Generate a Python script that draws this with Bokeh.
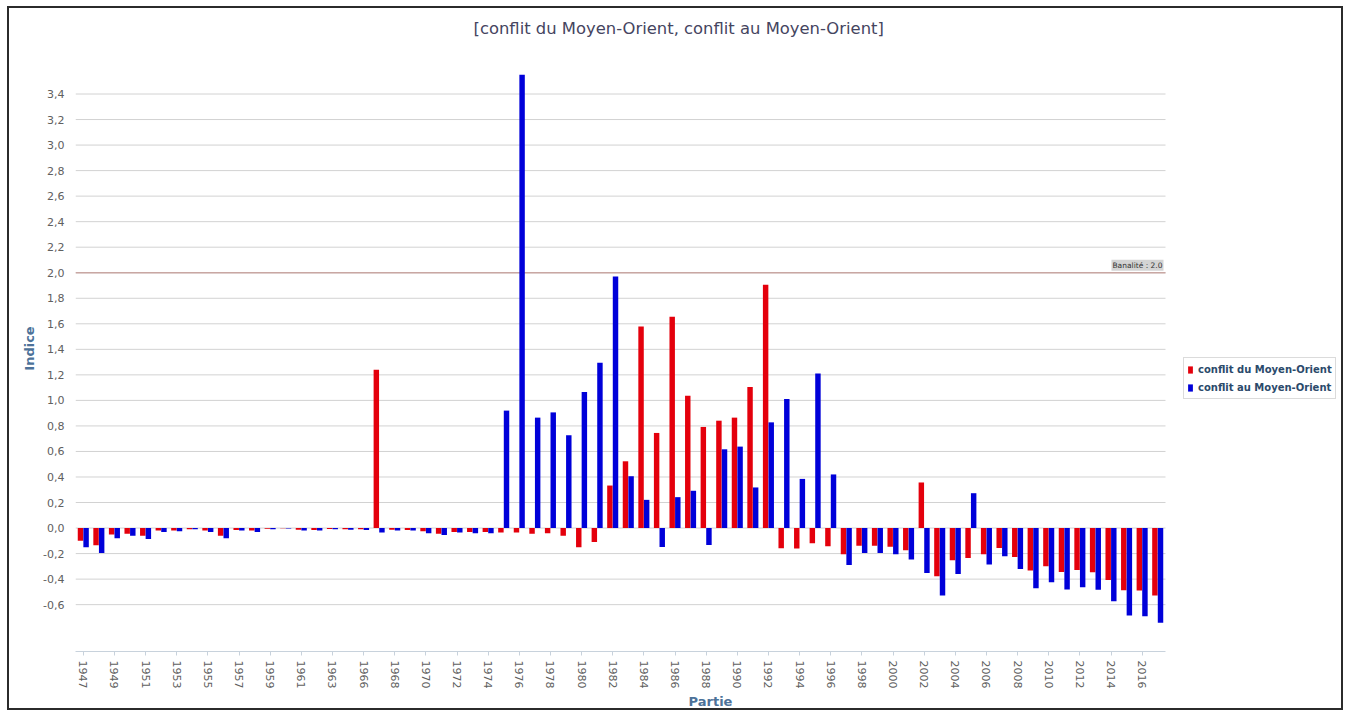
import numpy as np
from bokeh.plotting import figure
from bokeh.models import (ColumnDataSource, Range1d, FixedTicker, CustomJSTickFormatter,
                          Label, Legend, LegendItem)
from bokeh.transform import dodge
from bokeh.embed import file_html
from bokeh.resources import INLINE

# ---------------- data ----------------
years = [1947, 1948, 1949, 1950, 1951, 1952, 1953, 1954, 1955, 1956,
         1957, 1958, 1959, 1960, 1961, 1962, 1963, 1964, 1966, 1967,
         1968, 1969, 1970, 1971, 1972, 1973, 1974, 1975, 1976, 1977,
         1978, 1979, 1980, 1981, 1982, 1983, 1984, 1985, 1986, 1987,
         1988, 1989, 1990, 1991, 1992, 1993, 1994, 1995, 1996, 1997,
         1998, 1999, 2000, 2001, 2002, 2003, 2004, 2005, 2006, 2007,
         2008, 2009, 2010, 2011, 2012, 2013, 2014, 2015, 2016, 2017]

conflit_du = [-0.10, -0.135, -0.05, -0.045, -0.06, -0.02, -0.02, -0.01, -0.02, -0.06,
              -0.015, -0.02, -0.005, -0.002, -0.013, -0.015, -0.008, -0.01, -0.01, 1.24,
              -0.013, -0.015, -0.025, -0.045, -0.03, -0.03, -0.03, -0.034, -0.034, -0.044,
              -0.04, -0.06, -0.151, -0.109, 0.333, 0.523, 1.578, 0.745, 1.656, 1.036,
              0.792, 0.841, 0.865, 1.104, 1.906, -0.159, -0.161, -0.12, -0.143, -0.206,
              -0.138, -0.138, -0.146, -0.174, 0.357, -0.378, -0.253, -0.234, -0.206, -0.156,
              -0.227, -0.333, -0.299, -0.344, -0.328, -0.346, -0.406, -0.487, -0.49, -0.529]

conflit_au = [-0.15, -0.195, -0.08, -0.06, -0.085, -0.03, -0.025, -0.01, -0.03, -0.08,
              -0.02, -0.03, -0.01, -0.004, -0.02, -0.02, -0.01, -0.013, -0.015, -0.035,
              -0.02, -0.02, -0.04, -0.055, -0.035, -0.04, -0.04, 0.92, 3.55, 0.865,
              0.906, 0.727, 1.065, 1.294, 1.97, 0.406, 0.221, -0.148, 0.242, 0.292,
              -0.133, 0.617, 0.638, 0.318, 0.828, 1.010, 0.385, 1.211, 0.42, -0.289,
              -0.195, -0.195, -0.206, -0.247, -0.352, -0.529, -0.359, 0.273, -0.286, -0.221,
              -0.32, -0.471, -0.424, -0.482, -0.464, -0.484, -0.573, -0.685, -0.69, -0.742]

series_names = ["conflit du Moyen-Orient", "conflit au Moyen-Orient"]
y_ticks = [-0.6, -0.4, -0.2, 0.0, 0.2, 0.4, 0.6, 0.8, 1.0, 1.2, 1.4, 1.6, 1.8,
           2.0, 2.2, 2.4, 2.6, 2.8, 3.0, 3.2, 3.4]
threshold = 2.0
threshold_label = "Banalité : 2.0"
title_text = "[conflit du Moyen-Orient, conflit au Moyen-Orient]"

RED = "#e4000c"
BLUE = "#0000d9"
FONT = "DejaVu Sans"

n = len(years)
x_lo, x_hi = -0.5, n - 0.5
# the frame also holds the legend area at the right: extend the range by that share
plot_px, legend_px = 1090.0, 180.0
x_end = x_hi + (x_hi - x_lo) * legend_px / plot_px

src = ColumnDataSource(dict(idx=list(range(n)), du=conflit_du, au=conflit_au))

p = figure(width=1336, height=704, output_backend="svg", toolbar_location=None,
           x_range=Range1d(x_lo, x_end), y_range=Range1d(-0.967, 3.78),
           min_border_left=66, min_border_right=0, min_border_top=36, min_border_bottom=60)
p.styles = {"border": "2px solid #2b2b2b", "margin-left": "7px", "margin-top": "6px"}
p.outline_line_color = None
p.background_fill_color = "white"
p.border_fill_color = "white"

# horizontal grid lines limited to the data area
p.xgrid.visible = False
p.ygrid.visible = False
p.segment(x0=[x_lo] * len(y_ticks), x1=[x_hi] * len(y_ticks), y0=y_ticks, y1=y_ticks,
          line_color="#d2d2d2", line_width=1)

# threshold line
p.segment(x0=[x_lo], x1=[x_hi], y0=[threshold], y1=[threshold],
          line_color="#c9a7a3", line_width=1.5)

r1 = p.vbar(x=dodge("idx", -0.18), top="du", bottom=0, width=0.35, source=src,
            fill_color=RED, line_color=None)
r2 = p.vbar(x=dodge("idx", 0.18), top="au", bottom=0, width=0.35, source=src,
            fill_color=BLUE, line_color=None)

# y axis
p.yaxis.ticker = FixedTicker(ticks=y_ticks)
p.yaxis.formatter = CustomJSTickFormatter(code="return tick.toFixed(1).replace('.', ',');")
p.yaxis.axis_line_color = None
p.yaxis.major_tick_line_color = None
p.yaxis.minor_tick_line_color = None
p.yaxis.major_label_text_font = FONT
p.yaxis.major_label_text_font_size = "11px"
p.yaxis.major_label_text_color = "#606060"
p.yaxis.major_label_standoff = 5
p.yaxis.axis_label = "Indice"
p.yaxis.axis_label_text_font = FONT
p.yaxis.axis_label_text_font_style = "bold"
p.yaxis.axis_label_text_font_size = "13px"
p.yaxis.axis_label_text_color = "#4d7299"
p.yaxis.axis_label_standoff = 3

# x axis
p.xaxis.bounds = (x_lo, x_hi)
p.xaxis.ticker = FixedTicker(ticks=list(range(0, n, 2)))
p.xaxis.formatter = CustomJSTickFormatter(args=dict(labels=[str(y) for y in years]),
                                          code="const i = Math.round(tick); return (i >= 0 && i < labels.length) ? labels[i] : '';")
p.xaxis.axis_line_color = "#c8d2dc"
p.xaxis.major_tick_line_color = "#c8d2dc"
p.xaxis.major_tick_in = 0
p.xaxis.major_tick_out = 4
p.xaxis.minor_tick_line_color = None
p.xaxis.major_label_orientation = "vertical"
p.xaxis.major_label_text_font = FONT
p.xaxis.major_label_text_font_size = "11px"
p.xaxis.major_label_text_color = "#606060"
p.xaxis.major_label_standoff = 5
p.xaxis.axis_label = "Partie"
p.xaxis.axis_label_text_font = FONT
p.xaxis.axis_label_text_font_style = "bold"
p.xaxis.axis_label_text_font_size = "13px"
p.xaxis.axis_label_text_color = "#4d7299"
p.xaxis.axis_label_standoff = 3

p.add_layout(Label(x=x_hi, y=threshold, text=threshold_label, x_offset=-2, y_offset=2,
                   text_align="right", text_baseline="bottom", text_font=FONT,
                   text_font_size="7.5px", text_color="#333333",
                   background_fill_color="#d4d4d4", padding=1))

# title (left aligned with an offset so that it sits over the figure centre)
p.title.text = title_text
p.title.align = "left"
p.title.offset = 398
p.title.text_font = FONT
p.title.text_font_style = "normal"
p.title.text_font_size = "16.4px"
p.title.text_color = "#45455f"
p.title.standoff = 16

# legend inside the frame, right of the data area
legend = Legend(items=[LegendItem(label=series_names[0], renderers=[r1]),
                       LegendItem(label=series_names[1], renderers=[r2])],
                location=(1108, 252), orientation="vertical",
                label_text_font=FONT, label_text_font_size="10px",
                label_text_font_style="bold", label_text_color="#2b4a6b",
                glyph_width=6, glyph_height=9, label_standoff=5, padding=3,
                spacing=2, label_height=16, margin=0,
                border_line_color="#b8b8b8", border_line_width=1,
                background_fill_color="white", background_fill_alpha=1.0)
p.add_layout(legend)

open("out.html", "w").write(file_html(p, INLINE))
